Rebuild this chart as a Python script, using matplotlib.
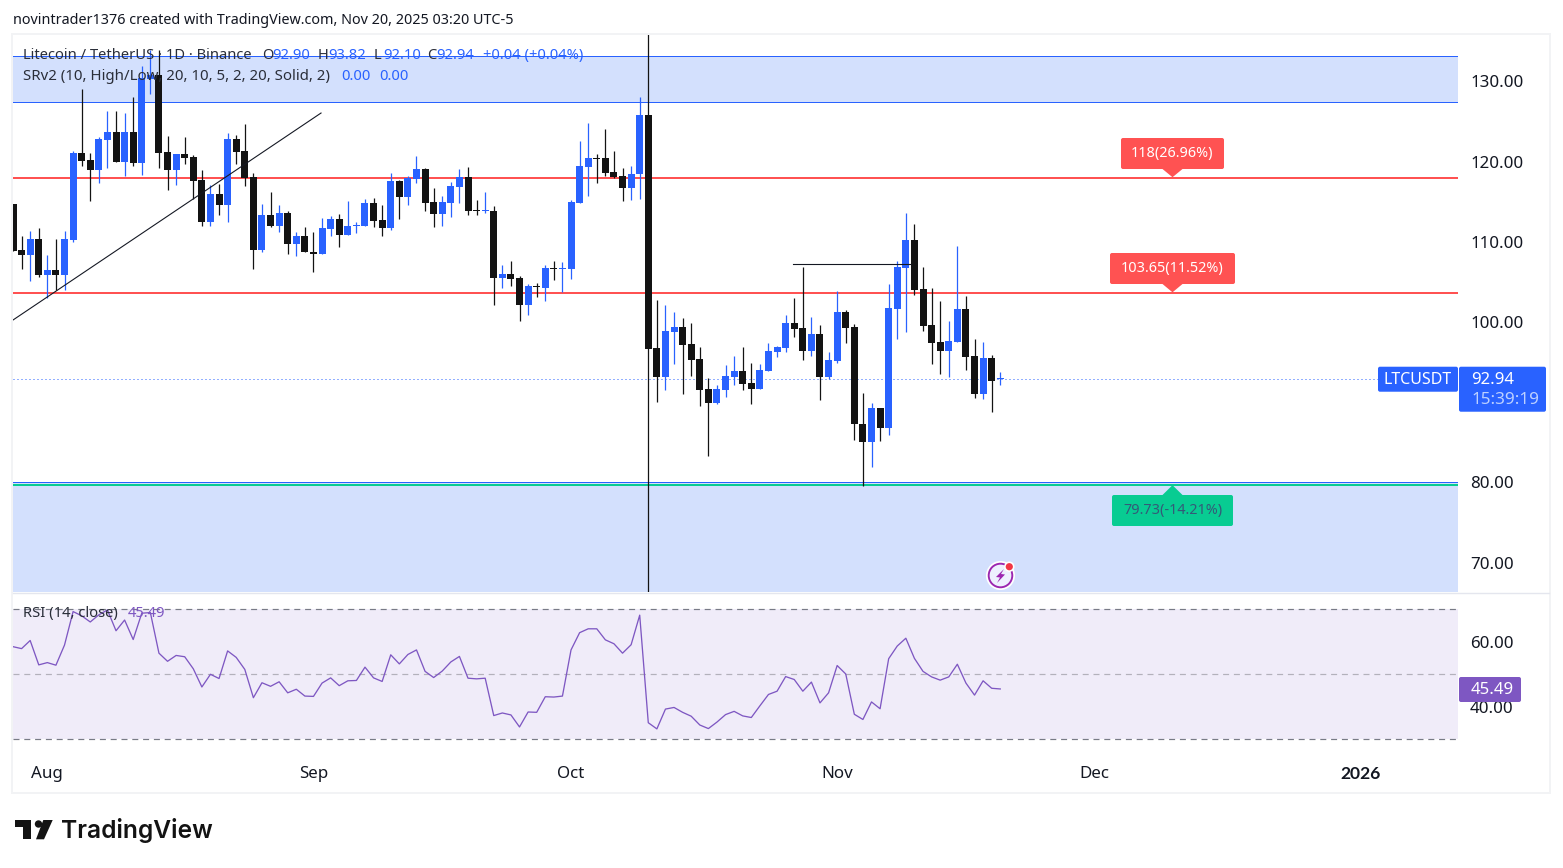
import matplotlib
matplotlib.use("Agg")
import matplotlib.pyplot as plt
from matplotlib.patches import FancyBboxPatch, Polygon, Circle, Rectangle

W, H = 1563, 868
FONT = "Noto Sans"
plt.rcParams["font.family"] = [FONT, "DejaVu Sans"]

opens = [114.73,109.0,108.37,110.36,105.87,106.5,105.87,110.24,121.08,120.21,
         118.97,122.7,123.7,119.96,123.7,119.84,130.31,130.81,121.21,118.97,
         120.96,120.59,117.72,112.48,115.97,114.6,122.83,121.33,118.09,108.99,
         113.35,111.98,113.6,109.74,110.74,108.74,108.49,111.61,112.86,110.86,
         111.98,111.98,114.85,112.73,111.73,117.59,115.6,117.84,119.09,114.98,
         113.48,114.85,116.85,118.09,113.98,113.85,113.85,105.5,106.0,105.5,
         102.13,104.5,104.25,106.75,106.62,106.62,114.85,119.34,120.46,120.46,
         118.72,118.22,116.72,118.47,125.82,96.77,93.15,98.76,99.39,97.27,
         95.4,91.66,89.91,91.53,93.15,93.9,92.4,91.66,93.9,96.27,
         96.77,99.88,99.26,96.39,98.51,93.15,95.15,101.26,99.39,87.29,
         85.05,89.29,86.79,101.63,106.74,110.23,104.12,99.63,97.52,96.39,
         97.52,101.63,95.77,91.03,95.52,92.90]
closes = [108.91,108.37,110.36,105.87,106.5,105.87,110.36,121.08,120.09,118.97,
          122.83,123.7,119.96,123.7,119.84,130.44,130.81,121.08,118.97,120.96,
          120.46,117.59,112.48,115.97,114.6,122.83,121.21,117.97,108.99,113.35,
          111.98,113.6,109.74,110.74,108.74,108.49,111.73,112.86,110.86,111.98,
          112.11,114.85,112.61,111.73,117.59,115.6,117.97,119.09,114.85,113.48,
          114.98,116.97,118.09,113.85,113.85,113.98,105.5,106.0,105.38,102.13,
          104.5,104.38,106.75,106.62,106.75,114.98,119.46,120.46,120.34,118.59,
          118.09,116.72,118.47,125.82,96.65,93.15,98.89,99.39,97.14,95.27,
          91.53,89.91,91.66,93.28,93.9,92.28,91.66,94.02,96.39,96.89,
          99.88,99.14,96.39,98.51,93.15,95.27,101.26,99.26,87.29,85.05,
          89.29,86.79,101.75,106.87,110.23,104.0,99.51,97.39,96.39,97.64,
          101.63,95.64,91.03,95.52,92.65,92.94]
highs = [114.73,110.74,111.36,111.73,108.37,110.36,111.36,121.33,129.06,121.08,
         123.08,126.32,126.32,126.07,128.07,131.93,133.93,133.93,123.2,120.96,
         123.08,120.84,118.97,117.09,117.22,123.58,123.33,124.7,118.59,114.73,
         116.22,114.6,113.85,111.24,111.86,111.24,112.98,113.23,113.48,115.1,
         112.48,115.35,115.47,114.6,118.59,117.72,118.22,120.71,119.21,116.72,
         115.72,117.47,119.09,119.34,115.23,116.22,114.48,107.12,107.62,105.75,
         104.75,104.88,107.12,107.62,107.5,115.23,122.58,124.83,120.96,124.08,
         121.33,119.21,119.46,128.07,136.5,102.75,102.13,101.26,100.51,99.88,
         96.89,93.03,92.15,94.65,95.77,96.89,94.9,94.77,97.39,97.02,
         100.88,103.0,106.87,100.63,99.63,96.27,103.87,101.51,99.76,91.16,
         89.91,89.29,104.75,107.61,113.6,112.23,106.87,104.25,102.63,100.13,
         109.49,103.25,97.89,97.52,95.89,93.82]
lows = [108.91,106.66,105.13,105.67,103.05,104.0,104.0,109.99,119.46,115.1,
        117.34,119.21,119.96,118.22,119.46,118.34,128.44,119.21,116.47,117.09,
        119.71,115.35,111.98,111.98,113.35,112.48,119.71,116.97,106.62,108.74,
        111.86,111.24,108.49,108.24,108.74,106.25,108.49,110.74,109.36,110.86,
        111.11,111.98,111.86,110.74,111.48,112.86,114.6,117.34,113.85,111.86,
        111.98,113.11,114.85,113.35,113.35,113.6,102.13,104.25,104.5,100.14,
        100.89,103.13,102.63,105.25,103.75,105.38,114.85,115.72,117.34,118.22,
        117.97,115.1,115.23,115.35,66.2,90.04,91.53,94.77,91.03,93.28,
        89.54,83.3,89.79,90.66,92.15,91.53,89.79,91.66,93.9,95.65,
        96.27,98.14,95.27,95.77,90.28,92.9,94.9,97.39,85.3,79.56,
        81.93,85.17,85.92,97.89,98.76,103.38,98.89,94.77,93.53,93.15,
        97.52,94.02,90.53,90.41,88.79,92.10]
rsi = [58.5,57.9,60.4,52.9,53.6,52.8,59.0,69.3,68.0,66.1,
       68.3,69.8,63.4,66.7,60.7,68.8,69.0,56.5,54.0,55.8,
       55.4,51.7,46.1,50.0,48.7,57.2,55.2,51.5,42.8,47.4,
       46.3,47.7,44.3,45.4,43.3,43.2,47.3,48.9,46.5,48.0,
       48.1,52.2,48.9,47.8,56.0,53.2,56.1,57.5,50.9,49.0,
       51.0,53.8,55.5,48.8,48.6,48.8,37.3,38.1,37.5,33.8,
       38.4,38.3,43.1,43.0,43.3,57.5,62.8,64.0,64.0,60.6,
       59.4,56.5,59.1,68.2,35.1,33.2,39.3,39.8,38.3,37.1,
       34.4,33.3,35.3,37.6,38.6,37.2,36.7,40.3,43.8,44.8,
       49.3,48.4,44.8,47.6,41.2,44.3,52.7,50.1,37.7,36.1,
       41.5,39.4,54.8,58.7,61.1,54.9,50.9,49.2,48.2,49.2,
       53.1,47.3,43.6,48.0,45.7,45.49]

price_ticks = [70, 80, 100, 110, 120, 130]
rsi_ticks = [40, 60]
month_pos = [4, 35, 65, 96, 126, 157]
month_labels = ["Aug", "Sep", "Oct", "Nov", "Dec", "2026"]
last_price = 92.94
res_levels = [118.0, 103.65]
sup_level = 79.73
zone_top = (127.5, 133.24)
zone_bot_top = 80.02
trend = ([0, 35.88], [100.26, 126.07])
hray = ([90.86, 104.6], [107.3, 107.3])

BLUE = "#2962ff"; BLACK = "#131313"; RED = "#ff5252"; GREEN = "#08cc92"
ZONE = "#d3e0fd"; PURPLE = "#7e57c2"; INK = "#131722"
PX = 0.72

fig = plt.figure(figsize=(W/100, H/100), dpi=100, facecolor="white")

def box(l, t, r, b):
    return [l/W, 1-b/H, (r-l)/W, (b-t)/H]

ax = fig.add_axes(box(13, 35, 1458, 592))
rx = fig.add_axes(box(13, 593, 1458, 760))
xlim = (0, 1445/8.585)
ax.set_xlim(xlim); rx.set_xlim(xlim)
ax.set_ylim(130-(592-81.5)/8.02, 130-(35-81.5)/8.02)
rx.set_ylim(50-(760-674.3)/3.25, 50-(593-674.3)/3.25)

# price pane
ax.axhspan(zone_top[0], zone_top[1], color=ZONE, lw=0, zorder=1)
ax.axhspan(ax.get_ylim()[0], zone_bot_top, color=ZONE, lw=0, zorder=1)
for v in (*zone_top, zone_bot_top):
    ax.axhline(v, color=BLUE, lw=1.0*PX, zorder=2)
for v in res_levels:
    ax.axhline(v, color=RED, lw=2*PX, zorder=2)
ax.axhline(sup_level, color=GREEN, lw=2*PX, zorder=2)
ax.plot([0, 1365/8.585], [last_price, last_price], color=BLUE, lw=1*PX,
        dashes=(1, 3), zorder=2)

idx = list(range(len(opens)))
colors = [BLUE if c >= o else BLACK for o, c in zip(opens, closes)]
ax.vlines(idx, lows, highs, colors=colors, lw=1.25*PX, zorder=3)
ax.bar(idx, [max(abs(c-o), 0.14) for o, c in zip(opens, closes)],
       bottom=[min(o, c) for o, c in zip(opens, closes)],
       width=7/8.585, color=colors, lw=0, zorder=4)
ax.plot(*trend, color="#131722", lw=1.1*PX, zorder=5)
ax.plot(*hray, color="#131722", lw=1.1*PX, zorder=5)

# RSI pane
rx.axhspan(30, 70, color="#f0ecf9", lw=0, zorder=1)
for v, c in ((70, "#787b86"), (30, "#787b86"), (50, "#b3b1bb")):
    rx.axhline(v, color=c, lw=1*PX*1.2, dashes=(5, 4), zorder=2)
rx.plot(idx, rsi, color=PURPLE, lw=1.3*PX, zorder=3)

for a in (ax, rx):
    a.set_facecolor("white")
    for s in a.spines.values():
        s.set_visible(False)
    a.yaxis.tick_right()
ax.set_xticks([])
ax.set_yticks(price_ticks, [f"{v:.2f}" for v in price_ticks])
rx.set_yticks(rsi_ticks, [f"{v:.2f}" for v in rsi_ticks])
rx.set_xticks(month_pos, month_labels)
for a in (ax, rx):
    a.tick_params(axis="y", length=0, pad=12*PX, labelsize=12.2, labelcolor=INK)
rx.tick_params(axis="x", length=0, pad=4.5, labelsize=12.2, labelcolor=INK)
last_tick = rx.get_xticklabels()[-1]
last_tick.set_fontfamily("Lato"); last_tick.set_fontweight("bold")
last_tick.set_fontsize(12.6)

# overlay in pixel coordinates for chart furniture
ov = fig.add_axes([0, 0, 1, 1], zorder=10)
ov.set_xlim(0, W); ov.set_ylim(H, 0); ov.axis("off"); ov.patch.set_alpha(0)

def py(v):
    return H - ax.transData.transform((0, v))[1]

FR = "#f2f3f5"
ov.add_patch(Rectangle((12, 34), 1538, 759, fill=False, ec=FR, lw=2*PX, zorder=1))
ov.plot([13, 1549], [592.5, 592.5], color="#e4e6ee", lw=1.4*PX, zorder=1)

def txt(x, y, s, c=INK, size=10.6, **k):
    k.setdefault("ha", "left"); k.setdefault("va", "center")
    return ov.text(x, y + 1.5, s, color=c, fontsize=size, zorder=6, **k)

def rbox(l, t, r, b, c, rad=2):
    ov.add_patch(FancyBboxPatch((l+rad, t+rad), r-l-2*rad, b-t-2*rad,
                 boxstyle=f"round,pad={rad},rounding_size={rad}", fc=c, ec="none", zorder=5))

txt(13, 19, "novintrader1376 created with TradingView.com, Nov 20, 2025 03:20 UTC-5", size=10.35)
LS = 10.6
txt(23, 54, "Litecoin / TetherUS · 1D · Binance", "#2a2e39", LS)
for x, s, c in [(262, "O", "#2a2e39"), (272, "92.90", BLUE), (318, "H", "#2a2e39"), (328, "93.82", BLUE),
                (374, "L", "#2a2e39"), (383, "92.10", BLUE), (427, "C", "#2a2e39"), (436, "92.94", BLUE),
                (483, "+0.04 (+0.04%)", BLUE)]:
    txt(x, 54, s, c, LS)
txt(23, 75, "SRv2 (10, High/Low, 20, 10, 5, 2, 20, Solid, 2)", "#2a2e39", 10.8)
txt(341, 75, "0.00", BLUE, LS); txt(379, 75, "0.00", BLUE, LS)
txt(23, 612, "RSI (14, close)", "#2a2e39", LS)
txt(128, 612, "45.49", PURPLE, LS)

# level labels
def flag(l, t, r, b, tipx, tipy, c, s, tc="white"):
    rbox(l, t, r, b, c)
    base = b if tipy > b else t
    ov.add_patch(Polygon([(tipx-10, base), (tipx+10, base), (tipx, tipy)], fc=c, ec="none", zorder=5))
    txt((l+r)/2, (t+b)/2-1.5, s, tc, 10.4, ha="center")

flag(1121, 138, 1224, 169, 1172.5, py(res_levels[0])-0.5, RED, "118(26.96%)")
flag(1110, 253, 1235, 284, 1172.5, py(res_levels[1])-0.5, RED, "103.65(11.52%)")
flag(1112, 495, 1233, 526, 1172.5, py(sup_level)+0.5, GREEN, "79.73(-14.21%)", "#345a78")

# price tags
lp = py(last_price)
rbox(1378, lp-12, 1458, lp+13, BLUE)
txt(1418, lp, "LTCUSDT", "white", 11.5, ha="center")
rbox(1459, lp-12, 1546, lp+33, BLUE)
txt(1471, lp, "92.94", "white", 12)
txt(1471, lp+20, "15:39:19", "#bcd0ff", 12.3)
rbox(1459, 677, 1521, 702, PURPLE)
txt(1471, 688.5, "45.49", "white", 12)

# energy icon
ov.add_patch(Circle((1000.5, 575.5), 14.5, fc="white", ec="none", zorder=5))
ov.add_patch(Circle((1000.5, 575.5), 11.8, fc="#eef1fe", ec="#9c27b0", lw=1.9*PX, zorder=5))
ov.add_patch(Polygon([(1004, 569), (996, 577), (1000, 577.5), (997, 583), (1005, 574.5), (1001, 574)],
                     fc="#9c27b0", ec="none", zorder=6))
ov.add_patch(Circle((1009.3, 566.7), 5.2, fc="white", ec="none", zorder=6))
ov.add_patch(Circle((1009.3, 566.7), 3.6, fc="#f23645", ec="none", zorder=7))

# TradingView logo
ov.add_patch(Polygon([(15.3, 820), (30.7, 820), (30.7, 839.3), (22.7, 839.3), (22.7, 827.3), (15.3, 827.3)],
                     fc="#131313", ec="none"))
ov.add_patch(Circle((38.5, 824), 3.7, fc="#131313", ec="none"))
ov.add_patch(Polygon([(43.3, 820), (52.7, 820), (44, 839.3), (36, 839.3)], fc="#131313", ec="none"))
ov.text(61, 830.5, "TradingView", color="#131313", fontsize=17.7, family="Inter", weight="semibold",
        ha="left", va="center")

fig.savefig("out.png", dpi=100)
